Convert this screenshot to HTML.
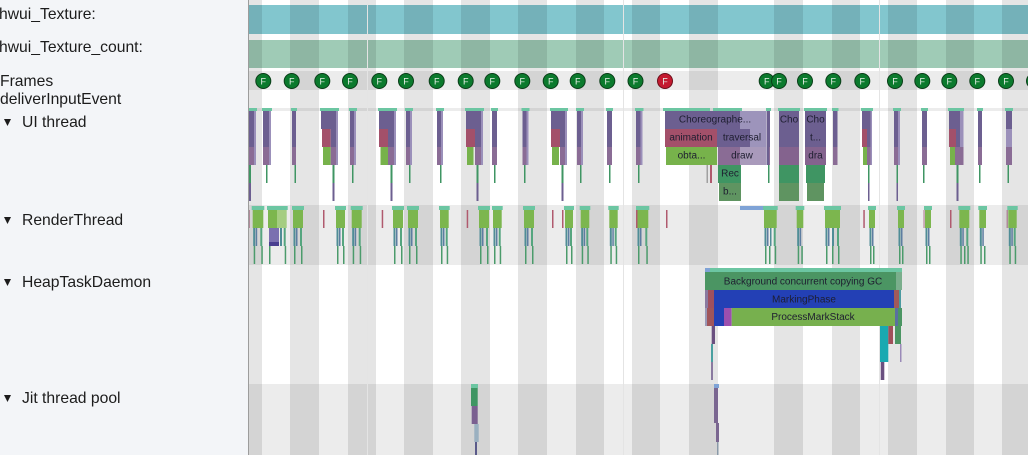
<!DOCTYPE html>
<html><head><meta charset="utf-8">
<style>
html,body{margin:0;padding:0;background:#fff;width:1028px;height:455px;overflow:hidden}
svg{display:block}
.t{fill:#6cc6a2}.p{fill:#6c5f90}.pl{fill:#9b90ba}.m{fill:#8a6c95}.r{fill:#a3506a}
.g{fill:#77b24b}.dg{fill:#3f9563}.og{fill:#5f9461}.g2{fill:#7cb64e}
.b1{fill:#4f8d96}.b2{fill:#5d7da0}.b3{fill:#55a57f}.l2{fill:#4b9b6b}.rl{fill:#b05a6e}
.bd{fill:#000;fill-opacity:.1}
.lab{font-family:"Liberation Sans",Arial,sans-serif;font-size:15.7px;fill:#1c1c1c}
.st{font-family:"Liberation Sans",Arial,sans-serif;font-size:10px;fill:#1e1e30;text-anchor:middle}
.ft{font-family:"Liberation Sans",Arial,sans-serif;font-size:9px;fill:#e8f0e8;text-anchor:middle}
</style></head>
<body>
<svg width="1028" height="455" viewBox="0 0 1028 455" xmlns="http://www.w3.org/2000/svg">
<!-- track backgrounds -->
<rect x="249" y="0" width="779" height="455" fill="#fff"/>
<rect x="249" y="71" width="779" height="19" fill="#ececec"/>
<rect x="249" y="108" width="779" height="3" fill="#ececec"/>
<rect x="249" y="205" width="779" height="60" fill="#ececec"/>
<rect x="249" y="384" width="779" height="71" fill="#ececec"/>
<!-- counters -->
<rect x="249" y="5" width="779" height="29" fill="#82c6ce"/>
<rect x="249" y="40" width="779" height="28" fill="#9fcbb6"/>
<!-- vsync bands -->
<g class="bd">
<rect x="249" y="0" width="13" height="455"/>
<rect x="290" y="0" width="29" height="455"/>
<rect x="348" y="0" width="28" height="455"/>
<rect x="404" y="0" width="29" height="455"/>
<rect x="461" y="0" width="29" height="455"/>
<rect x="518" y="0" width="29" height="455"/>
<rect x="576" y="0" width="28" height="455"/>
<rect x="632" y="0" width="28" height="455"/>
<rect x="689" y="0" width="29" height="455"/>
<rect x="774" y="0" width="29" height="455"/>
<rect x="832" y="0" width="28" height="455"/>
<rect x="888" y="0" width="29" height="455"/>
<rect x="946" y="0" width="28" height="455"/>
<rect x="1002" y="0" width="26" height="455"/>
</g>
<!-- grid lines -->
<g fill="#e4e4e4">
<rect x="367" y="0" width="1" height="455"/>
<rect x="623" y="0" width="1" height="455"/>
<rect x="879" y="0" width="1" height="455"/>
</g>

<!-- Frames -->
<g stroke="#0a3d18" stroke-width="1" fill="#0b7a2d">
<circle cx="263.3" cy="81" r="7.5"/><circle cx="291.7" cy="81" r="7.5"/><circle cx="322.3" cy="81" r="7.5"/>
<circle cx="350" cy="81" r="7.5"/><circle cx="379.3" cy="81" r="7.5"/><circle cx="406" cy="81" r="7.5"/>
<circle cx="436.7" cy="81" r="7.5"/><circle cx="465.7" cy="81" r="7.5"/><circle cx="492.3" cy="81" r="7.5"/>
<circle cx="522.3" cy="81" r="7.5"/><circle cx="550.7" cy="81" r="7.5"/><circle cx="577.7" cy="81" r="7.5"/>
<circle cx="607.3" cy="81" r="7.5"/><circle cx="635.5" cy="81" r="7.5"/>
<circle cx="665" cy="81" r="7.5" fill="#c41a30" stroke="#6a0f1a"/>
<circle cx="766.7" cy="81" r="7.5"/><circle cx="779" cy="81" r="7.5"/><circle cx="805" cy="81" r="7.5"/>
<circle cx="833.3" cy="81" r="7.5"/><circle cx="862.3" cy="81" r="7.5"/><circle cx="895" cy="81" r="7.5"/>
<circle cx="922.3" cy="81" r="7.5"/><circle cx="949.3" cy="81" r="7.5"/><circle cx="977.3" cy="81" r="7.5"/>
<circle cx="1006" cy="81" r="7.5"/><circle cx="1034" cy="81" r="7.5"/>
</g>
<g class="ft">
<text x="263.3" y="84.5">F</text><text x="291.7" y="84.5">F</text><text x="322.3" y="84.5">F</text>
<text x="350" y="84.5">F</text><text x="379.3" y="84.5">F</text><text x="406" y="84.5">F</text>
<text x="436.7" y="84.5">F</text><text x="465.7" y="84.5">F</text><text x="492.3" y="84.5">F</text>
<text x="522.3" y="84.5">F</text><text x="550.7" y="84.5">F</text><text x="577.7" y="84.5">F</text>
<text x="607.3" y="84.5">F</text><text x="635.5" y="84.5">F</text><text x="665" y="84.5">F</text>
<text x="766.7" y="84.5">F</text><text x="779" y="84.5">F</text><text x="805" y="84.5">F</text>
<text x="833.3" y="84.5">F</text><text x="862.3" y="84.5">F</text><text x="895" y="84.5">F</text>
<text x="922.3" y="84.5">F</text><text x="949.3" y="84.5">F</text><text x="977.3" y="84.5">F</text>
<text x="1006" y="84.5">F</text>
</g>

<!-- UI thread type A groups -->
<g>
<rect class="t" x="248" y="108" width="9" height="3"/><rect class="p" x="249" y="111" width="7" height="36"/><rect class="m" x="249" y="147" width="7" height="18"/><rect class="pl" x="254" y="111" width="2" height="54"/><rect class="dg" x="249" y="165" width="2" height="18"/><rect class="p" x="249" y="183" width="2" height="18"/>
<rect class="t" x="262" y="108" width="10" height="3"/><rect class="p" x="263" y="111" width="8" height="36"/><rect class="m" x="263" y="147" width="8" height="18"/><rect class="pl" x="269" y="111" width="2" height="54"/><rect class="dg" x="266" y="165" width="1.5" height="18"/>
<rect class="t" x="291" y="108" width="6" height="3"/><rect class="p" x="292" y="111" width="4" height="36"/><rect class="m" x="292" y="147" width="4" height="18"/><rect class="dg" x="294.5" y="165" width="1.5" height="18"/>
<rect class="t" x="349" y="108" width="8" height="3"/><rect class="p" x="350" y="111" width="6" height="36"/><rect class="m" x="350" y="147" width="6" height="18"/><rect class="pl" x="354" y="111" width="2" height="54"/><rect class="dg" x="352" y="165" width="1.5" height="18"/>
<rect class="t" x="405" y="108" width="8" height="3"/><rect class="p" x="406" y="111" width="6" height="36"/><rect class="m" x="406" y="147" width="6" height="18"/><rect class="pl" x="410" y="111" width="2" height="54"/><rect class="dg" x="409" y="165" width="1.5" height="18"/>
<rect class="t" x="436" y="108" width="8" height="3"/><rect class="p" x="437" y="111" width="6" height="36"/><rect class="m" x="437" y="147" width="6" height="18"/><rect class="pl" x="441" y="111" width="2" height="54"/><rect class="dg" x="440" y="165" width="1.5" height="18"/>
<rect class="t" x="491" y="108" width="7" height="3"/><rect class="p" x="492" y="111" width="5" height="36"/><rect class="m" x="492" y="147" width="5" height="18"/><rect class="dg" x="494" y="165" width="1.5" height="18"/>
<rect class="t" x="521.5" y="108" width="8" height="3"/><rect class="p" x="522.5" y="111" width="6" height="36"/><rect class="m" x="522.5" y="147" width="6" height="18"/><rect class="pl" x="526.5" y="111" width="2" height="54"/><rect class="dg" x="524" y="165" width="1.5" height="18"/>
<rect class="t" x="576" y="108" width="8" height="3"/><rect class="p" x="577" y="111" width="6" height="36"/><rect class="m" x="577" y="147" width="6" height="18"/><rect class="pl" x="581" y="111" width="2" height="54"/><rect class="dg" x="580" y="165" width="1.5" height="18"/>
<rect class="t" x="606" y="108" width="7" height="3"/><rect class="p" x="607" y="111" width="5" height="36"/><rect class="m" x="607" y="147" width="5" height="18"/><rect class="dg" x="609" y="165" width="1.5" height="18"/>
<rect class="t" x="635" y="108" width="8.5" height="3"/><rect class="p" x="636" y="111" width="6.5" height="36"/><rect class="m" x="636" y="147" width="6.5" height="18"/><rect class="pl" x="640.5" y="111" width="2" height="54"/><rect class="dg" x="638" y="165" width="1.5" height="18"/>
<rect class="t" x="766" y="108" width="5" height="3"/><rect class="p" x="767" y="111" width="3" height="36"/><rect class="m" x="767" y="147" width="3" height="18"/><rect class="dg" x="768" y="165" width="1.5" height="18"/>
<rect class="t" x="832" y="108" width="6.5" height="3"/><rect class="p" x="833" y="111" width="4.5" height="36"/><rect class="m" x="833" y="147" width="4.5" height="18"/>
<rect class="t" x="893" y="108" width="8" height="3"/><rect class="p" x="894" y="111" width="6" height="36"/><rect class="m" x="894" y="147" width="6" height="18"/><rect class="pl" x="898" y="111" width="2" height="54"/><rect class="dg" x="896.5" y="165" width="1.5" height="18"/><rect class="p" x="896.5" y="183" width="1.5" height="18"/>
<rect class="t" x="921" y="108" width="7" height="3"/><rect class="p" x="922" y="111" width="5" height="36"/><rect class="m" x="922" y="147" width="5" height="18"/><rect class="dg" x="923" y="165" width="1.5" height="18"/>
<rect class="t" x="977" y="108" width="6" height="3"/><rect class="p" x="978" y="111" width="4" height="36"/><rect class="m" x="978" y="147" width="4" height="18"/><rect class="dg" x="979" y="165" width="1.5" height="18"/>
<rect class="t" x="1005" y="108" width="8" height="3"/><rect class="p" x="1006" y="111" width="6" height="18"/><rect class="pl" x="1006" y="129" width="6" height="18"/><rect class="m" x="1006" y="147" width="6" height="18"/><rect class="dg" x="1007.5" y="165" width="1.5" height="18"/>
</g>

<!-- UI thread type B groups -->
<g>
<rect class="t" x="320" y="108" width="19" height="3"/><rect class="p" x="321" y="111" width="17" height="18"/><rect class="r" x="322" y="129" width="8.7" height="18"/><rect class="p" x="330.7" y="129" width="7.3" height="18"/><rect class="g" x="323" y="147" width="7.7" height="18"/><rect class="m" x="330.7" y="147" width="7.3" height="18"/><rect class="pl" x="336" y="111" width="2" height="54"/><rect class="dg" x="332.5" y="165" width="2" height="18"/><rect class="p" x="332.5" y="183" width="2" height="18"/>
<rect class="t" x="378" y="108" width="19" height="3"/><rect class="p" x="379" y="111" width="17" height="18"/><rect class="r" x="379" y="129" width="9" height="18"/><rect class="p" x="388" y="129" width="8" height="18"/><rect class="g" x="380.5" y="147" width="7.5" height="18"/><rect class="m" x="388" y="147" width="8" height="18"/><rect class="pl" x="394" y="111" width="2" height="54"/><rect class="dg" x="390.5" y="165" width="2" height="18"/><rect class="p" x="390.5" y="183" width="2" height="18"/>
<rect class="t" x="465" y="108" width="19" height="3"/><rect class="p" x="466" y="111" width="17" height="18"/><rect class="r" x="466" y="129" width="9" height="18"/><rect class="p" x="475" y="129" width="8" height="18"/><rect class="g" x="467" y="147" width="6.5" height="18"/><rect class="m" x="475" y="147" width="8" height="18"/><rect class="pl" x="481" y="111" width="2" height="54"/><rect class="dg" x="476.5" y="165" width="2" height="18"/><rect class="p" x="476.5" y="183" width="2" height="18"/>
<rect class="t" x="550" y="108" width="18" height="3"/><rect class="p" x="551" y="111" width="16" height="18"/><rect class="r" x="551" y="129" width="9" height="18"/><rect class="p" x="560" y="129" width="7" height="18"/><rect class="g" x="552" y="147" width="7" height="18"/><rect class="m" x="560" y="147" width="7" height="18"/><rect class="pl" x="565" y="111" width="2" height="54"/><rect class="dg" x="561.5" y="165" width="2" height="18"/><rect class="p" x="561.5" y="183" width="2" height="18"/>
<rect class="t" x="861" y="108" width="12" height="3"/><rect class="p" x="862" y="111" width="10" height="18"/><rect class="r" x="862" y="129" width="5" height="18"/><rect class="p" x="867" y="129" width="5" height="18"/><rect class="g" x="863" y="147" width="4" height="18"/><rect class="m" x="867" y="147" width="5" height="18"/><rect class="pl" x="870.5" y="111" width="1.5" height="54"/><rect class="dg" x="868" y="165" width="1.5" height="18"/><rect class="p" x="868" y="183" width="1.5" height="18"/>
<rect class="t" x="948" y="108" width="16" height="3"/><rect class="p" x="949" y="111" width="11" height="18"/><rect class="pl" x="960" y="111" width="3.5" height="18"/><rect class="r" x="949" y="129" width="7" height="18"/><rect class="p" x="956" y="129" width="4" height="18"/><rect class="pl" x="960" y="129" width="3.5" height="18"/><rect class="g" x="950" y="147" width="5" height="18"/><rect class="m" x="955" y="147" width="8.5" height="18"/><rect class="dg" x="956.5" y="165" width="2" height="18"/><rect class="p" x="956.5" y="183" width="2" height="18"/>
</g>

<!-- Choreographer group -->
<g>
<rect class="t" x="663" y="108" width="47" height="3"/><rect class="t" x="713" y="108" width="29" height="3"/>
<rect class="p" x="665" y="111" width="75" height="18"/><rect fill="#9d94bb" x="740" y="111" width="26" height="18"/>
<rect class="r" x="665" y="129" width="52" height="18"/><rect class="p" x="717" y="129" width="33" height="18"/><rect fill="#9d94bb" x="750" y="129" width="16" height="18"/>
<rect class="g" x="666" y="147" width="51" height="18"/><rect class="m" x="718" y="147" width="22" height="18"/><rect fill="#a99abb" x="740" y="147" width="26" height="18"/>
<rect fill="#a0a0a0" x="706.5" y="165" width="1.5" height="18"/><rect class="rl" x="710" y="165" width="2" height="18"/>
<rect class="dg" x="718" y="165" width="23" height="18"/>
<rect class="og" x="719" y="183" width="22" height="18"/>
<rect class="p" x="766.5" y="111" width="2.5" height="54"/>
<!-- Cho 1 -->
<rect class="t" x="778" y="108" width="22" height="3"/>
<rect class="p" x="779" y="111" width="20" height="36"/><rect fill="#84638e" x="779" y="147" width="20" height="18"/>
<rect class="dg" x="779" y="165" width="20" height="18"/><rect class="og" x="779" y="183" width="20" height="18"/>
<!-- Cho 2 -->
<rect class="t" x="804" y="108" width="23" height="3"/>
<rect class="p" x="805" y="111" width="21" height="36"/><rect fill="#84638e" x="805" y="147" width="21" height="18"/>
<rect class="dg" x="806" y="165" width="19" height="18"/><rect class="og" x="807" y="183" width="17" height="18"/>
</g>
<g class="st">
<text x="715" y="122.5">Choreographe...</text>
<text x="691" y="140.5">animation</text>
<text x="742" y="140.5">traversal</text>
<text x="691.5" y="158.5">obta...</text>
<text x="742" y="158.5">draw</text>
<text x="730" y="176.5">Rec</text>
<text x="730" y="194.5">b...</text>
<text x="789" y="122.5">Cho</text>
<text x="815.5" y="122.5">Cho</text>
<text x="815.5" y="140.5">t...</text>
<text x="815.5" y="158.5">dra</text>
</g>

<!-- RenderThread -->
<g>
<rect fill="#7fa3d6" x="740" y="206" width="23" height="4"/>
<rect fill="#b08a9a" x="248.5" y="210" width="1.5" height="18"/>
<rect class="rl" x="323" y="210" width="1.5" height="18"/><rect class="rl" x="381.7" y="210" width="1.5" height="18"/>
<rect class="rl" x="466.7" y="210" width="1.5" height="18"/><rect class="rl" x="552" y="210" width="1.5" height="18"/>
<rect class="rl" x="562" y="210" width="1.5" height="18"/><rect class="rl" x="636" y="210" width="1.5" height="18"/>
<rect class="rl" x="666" y="210" width="1.5" height="18"/><rect class="rl" x="863.3" y="210" width="1.5" height="18"/>
<rect fill="#c09aa8" x="923.3" y="210" width="1.5" height="18"/><rect class="rl" x="950" y="210" width="1.5" height="18"/>
<rect fill="#b08a9a" x="1006.5" y="210" width="1.5" height="18"/>

<rect class="t" x="251.7" y="206" width="12.6" height="4"/><rect class="g2" x="252.7" y="210" width="10.6" height="18"/><rect class="b1" x="253.2" y="228" width="2" height="18"/><rect class="b2" x="255.7" y="228" width="1.5" height="18"/><rect class="b3" x="260.3" y="228" width="2" height="18"/><rect class="l2" x="253.7" y="246" width="1.5" height="18"/><rect class="l2" x="261.3" y="246" width="1.5" height="18"/>
<rect class="t" x="267" y="206" width="20.7" height="4"/><rect class="g2" x="268" y="210" width="9" height="18"/><rect fill="#a5cd82" x="277" y="210" width="9.7" height="18"/><rect fill="#7b70b0" x="269" y="228" width="10" height="14"/><rect fill="#4a3f90" x="269" y="242" width="10" height="4"/><rect class="b1" x="280" y="228" width="2" height="18"/><rect class="b3" x="283.7" y="228" width="2" height="18"/><rect class="l2" x="269" y="246" width="1.5" height="18"/><rect class="l2" x="284.7" y="246" width="1.5" height="18"/>
<rect class="t" x="292" y="206" width="12" height="4"/><rect class="g2" x="293" y="210" width="10" height="18"/><rect class="b1" x="293.5" y="228" width="2" height="18"/><rect class="b2" x="296" y="228" width="1.5" height="18"/><rect class="b3" x="300" y="228" width="2" height="18"/><rect class="l2" x="294" y="246" width="1.5" height="18"/><rect class="l2" x="301" y="246" width="1.5" height="18"/>
<rect class="t" x="335" y="206" width="11" height="4"/><rect class="g2" x="336" y="210" width="9" height="18"/><rect class="b1" x="336.5" y="228" width="2" height="18"/><rect class="b2" x="339" y="228" width="1.5" height="18"/><rect class="b3" x="342" y="228" width="2" height="18"/><rect class="l2" x="337" y="246" width="1.5" height="18"/><rect class="l2" x="343" y="246" width="1.5" height="18"/>
<rect class="t" x="350.7" y="206" width="12" height="4"/><rect class="g2" x="351.7" y="210" width="10" height="18"/><rect class="b1" x="352.2" y="228" width="2" height="18"/><rect class="b2" x="354.7" y="228" width="1.5" height="18"/><rect class="b3" x="358.7" y="228" width="2" height="18"/><rect class="l2" x="352.7" y="246" width="1.5" height="18"/><rect class="l2" x="359.7" y="246" width="1.5" height="18"/>
<rect class="t" x="392" y="206" width="12" height="4"/><rect class="g2" x="393" y="210" width="10" height="18"/><rect class="b1" x="393.5" y="228" width="2" height="18"/><rect class="b2" x="396" y="228" width="1.5" height="18"/><rect class="b3" x="400" y="228" width="2" height="18"/><rect class="l2" x="394" y="246" width="1.5" height="18"/><rect class="l2" x="401" y="246" width="1.5" height="18"/>
<rect class="t" x="407" y="206" width="12" height="4"/><rect class="g2" x="408" y="210" width="10" height="18"/><rect class="b1" x="408.5" y="228" width="2" height="18"/><rect class="b2" x="411" y="228" width="1.5" height="18"/><rect class="b3" x="415" y="228" width="2" height="18"/><rect class="l2" x="409" y="246" width="1.5" height="18"/><rect class="l2" x="416" y="246" width="1.5" height="18"/>
<rect class="t" x="439" y="206" width="10.7" height="4"/><rect class="g2" x="440" y="210" width="8.7" height="18"/><rect class="b1" x="440.5" y="228" width="2" height="18"/><rect class="b2" x="443" y="228" width="1.5" height="18"/><rect class="b3" x="445.7" y="228" width="2" height="18"/><rect class="l2" x="441" y="246" width="1.5" height="18"/><rect class="l2" x="446.7" y="246" width="1.5" height="18"/>
<rect class="t" x="478" y="206" width="12" height="4"/><rect class="g2" x="479" y="210" width="10" height="18"/><rect class="b1" x="479.5" y="228" width="2" height="18"/><rect class="b2" x="482" y="228" width="1.5" height="18"/><rect class="b3" x="486" y="228" width="2" height="18"/><rect class="l2" x="480" y="246" width="1.5" height="18"/><rect class="l2" x="487" y="246" width="1.5" height="18"/>
<rect class="t" x="492" y="206" width="10.7" height="4"/><rect class="g2" x="493" y="210" width="8.7" height="18"/><rect class="b1" x="493.5" y="228" width="2" height="18"/><rect class="b2" x="496" y="228" width="1.5" height="18"/><rect class="b3" x="498.7" y="228" width="2" height="18"/><rect class="l2" x="494" y="246" width="1.5" height="18"/><rect class="l2" x="499.7" y="246" width="1.5" height="18"/>
<rect class="t" x="523" y="206" width="12" height="4"/><rect class="g2" x="524" y="210" width="10" height="18"/><rect class="b1" x="524.5" y="228" width="2" height="18"/><rect class="b2" x="527" y="228" width="1.5" height="18"/><rect class="b3" x="531" y="228" width="2" height="18"/><rect class="l2" x="525" y="246" width="1.5" height="18"/><rect class="l2" x="532" y="246" width="1.5" height="18"/>
<rect class="t" x="564" y="206" width="10" height="4"/><rect class="g2" x="565" y="210" width="8" height="18"/><rect class="b1" x="565.5" y="228" width="2" height="18"/><rect class="b2" x="568" y="228" width="1.5" height="18"/><rect class="b3" x="570" y="228" width="2" height="18"/><rect class="l2" x="566" y="246" width="1.5" height="18"/><rect class="l2" x="571" y="246" width="1.5" height="18"/>
<rect class="t" x="579.7" y="206" width="10.6" height="4"/><rect class="g2" x="580.7" y="210" width="8.6" height="18"/><rect class="b1" x="581.2" y="228" width="2" height="18"/><rect class="b2" x="583.7" y="228" width="1.5" height="18"/><rect class="b3" x="586.3" y="228" width="2" height="18"/><rect class="l2" x="581.7" y="246" width="1.5" height="18"/><rect class="l2" x="587.3" y="246" width="1.5" height="18"/>
<rect class="t" x="608.3" y="206" width="10.4" height="4"/><rect class="g2" x="609.3" y="210" width="8.4" height="18"/><rect class="b1" x="609.8" y="228" width="2" height="18"/><rect class="b2" x="612.3" y="228" width="1.5" height="18"/><rect class="b3" x="614.7" y="228" width="2" height="18"/><rect class="l2" x="610.3" y="246" width="1.5" height="18"/><rect class="l2" x="615.7" y="246" width="1.5" height="18"/>
<rect class="t" x="636" y="206" width="13.3" height="4"/><rect class="g2" x="637.5" y="210" width="10.8" height="18"/><rect class="b1" x="637.5" y="228" width="2" height="18"/><rect class="b2" x="640" y="228" width="1.5" height="18"/><rect class="b3" x="645.3" y="228" width="2" height="18"/><rect class="l2" x="638" y="246" width="1.5" height="18"/><rect class="l2" x="646.3" y="246" width="1.5" height="18"/>
<rect class="t" x="763" y="206" width="14.7" height="4"/><rect class="g2" x="764" y="210" width="12.7" height="18"/><rect class="b1" x="764.5" y="228" width="2" height="18"/><rect class="b2" x="767" y="228" width="1.5" height="18"/><rect class="b1" x="770" y="228" width="1.5" height="18"/><rect class="b3" x="773.7" y="228" width="2" height="18"/><rect class="l2" x="765" y="246" width="1.5" height="18"/><rect class="l2" x="769" y="246" width="1.5" height="18"/><rect class="l2" x="774.7" y="246" width="1.5" height="18"/>
<rect class="t" x="795.7" y="206" width="8.6" height="4"/><rect class="g2" x="796.7" y="210" width="6.6" height="18"/><rect class="b1" x="797.2" y="228" width="2" height="18"/><rect class="b2" x="799.7" y="228" width="1.5" height="18"/><rect class="l2" x="797.7" y="246" width="1.5" height="18"/><rect class="l2" x="801.3" y="246" width="1.5" height="18"/>
<rect class="t" x="824" y="206" width="17" height="4"/><rect class="g2" x="825" y="210" width="15" height="18"/><rect class="b1" x="825.5" y="228" width="2" height="18"/><rect class="b2" x="828" y="228" width="1.5" height="18"/><rect class="b1" x="832" y="228" width="2" height="18"/><rect class="b3" x="837" y="228" width="2" height="18"/><rect class="l2" x="826" y="246" width="1.5" height="18"/><rect class="l2" x="832" y="246" width="1.5" height="18"/><rect class="l2" x="838" y="246" width="1.5" height="18"/>
<rect class="t" x="868" y="206" width="8" height="4"/><rect class="g2" x="869" y="210" width="6" height="18"/><rect class="b1" x="869.5" y="228" width="2" height="18"/><rect class="b2" x="872" y="228" width="1.5" height="18"/><rect class="l2" x="870" y="246" width="1.5" height="18"/><rect class="l2" x="873" y="246" width="1.5" height="18"/>
<rect class="t" x="897" y="206" width="8" height="4"/><rect class="g2" x="898" y="210" width="6" height="18"/><rect class="b1" x="898.5" y="228" width="2" height="18"/><rect class="b2" x="901" y="228" width="1.5" height="18"/><rect class="l2" x="899" y="246" width="1.5" height="18"/><rect class="l2" x="902" y="246" width="1.5" height="18"/>
<rect class="t" x="924" y="206" width="8" height="4"/><rect class="g2" x="925" y="210" width="6" height="18"/><rect class="b1" x="925.5" y="228" width="2" height="18"/><rect class="b2" x="928" y="228" width="1.5" height="18"/><rect class="l2" x="926" y="246" width="1.5" height="18"/><rect class="l2" x="929" y="246" width="1.5" height="18"/>
<rect class="t" x="958.3" y="206" width="12" height="4"/><rect class="g2" x="959.3" y="210" width="10" height="18"/><rect class="b1" x="959.8" y="228" width="2" height="18"/><rect class="b2" x="962.3" y="228" width="1.5" height="18"/><rect class="b3" x="966.3" y="228" width="2" height="18"/><rect class="l2" x="960.3" y="246" width="1.5" height="18"/><rect class="l2" x="964" y="246" width="1.5" height="18"/><rect class="l2" x="967.3" y="246" width="1.5" height="18"/>
<rect class="t" x="978.3" y="206" width="8.7" height="4"/><rect class="g2" x="979.3" y="210" width="6.7" height="18"/><rect class="b1" x="979.8" y="228" width="2" height="18"/><rect class="b2" x="982.3" y="228" width="1.5" height="18"/><rect class="l2" x="980.3" y="246" width="1.5" height="18"/><rect class="l2" x="984" y="246" width="1.5" height="18"/>
<rect class="t" x="1007.3" y="206" width="10.4" height="4"/><rect class="g2" x="1008.3" y="210" width="8.4" height="18"/><rect class="b1" x="1008.8" y="228" width="2" height="18"/><rect class="b2" x="1011.3" y="228" width="1.5" height="18"/><rect class="b3" x="1013.7" y="228" width="2" height="18"/><rect class="l2" x="1009.3" y="246" width="1.5" height="18"/><rect class="l2" x="1014.7" y="246" width="1.5" height="18"/>
</g>

<!-- HeapTaskDaemon -->
<g>
<rect fill="#7fa3d6" x="705" y="268" width="5" height="4"/><rect class="t" x="710" y="268" width="192" height="4"/>
<rect fill="#4b9563" x="705" y="272" width="191" height="18"/><rect fill="#7aae8c" x="896" y="272" width="6" height="18"/>
<rect fill="#8a7aa0" x="705" y="290" width="3" height="18"/><rect fill="#a0505e" x="708" y="290" width="6" height="18"/>
<rect fill="#2340b5" x="714" y="290" width="180" height="18"/><rect fill="#a05a5a" x="894" y="290" width="5" height="18"/><rect fill="#4a9aa0" x="899" y="290" width="2" height="18"/>
<rect fill="#9a9ab8" x="705" y="308" width="2" height="18"/><rect fill="#a0555a" x="707" y="308" width="7" height="18"/>
<rect fill="#2340b5" x="714" y="308" width="10" height="18"/><rect fill="#9c4fae" x="724" y="308" width="7.7" height="18"/>
<rect fill="#77b04e" x="731.7" y="308" width="163.3" height="18"/><rect fill="#5a6fa0" x="895" y="308" width="3" height="18"/><rect fill="#4b9563" x="898" y="308" width="4" height="18"/>
<rect fill="#6a5080" x="711.7" y="326" width="3.3" height="18"/>
<rect fill="#19a9b1" x="880" y="326" width="8.3" height="36"/><rect fill="#a0505a" x="888.3" y="326" width="4.7" height="18"/><rect fill="#4b9563" x="895" y="326" width="6" height="18"/>
<rect fill="#4aa0a0" x="711" y="344" width="2" height="18"/><rect fill="#9a8ab8" x="900" y="344" width="1.5" height="18"/>
<rect fill="#8a7aa0" x="711" y="362" width="2" height="18"/><rect fill="#6a5080" x="880.7" y="362" width="3.6" height="18"/>
</g>
<g class="st">
<text x="803" y="284.5">Background concurrent copying GC</text>
<text x="804" y="302.5">MarkingPhase</text>
<text x="813" y="320">ProcessMarkStack</text>
</g>

<!-- Jit thread pool -->
<g>
<rect class="t" x="471" y="384" width="7" height="4"/>
<rect fill="#3f9563" x="471" y="388" width="6.7" height="18"/>
<rect fill="#7a5f90" x="471.7" y="406" width="6" height="18"/>
<rect fill="#9ab0c0" x="474.3" y="424" width="4.4" height="18"/>
<rect fill="#5a5a8a" x="475" y="442" width="2" height="13"/>
<rect fill="#7fa3d6" x="714" y="384" width="5" height="4"/>
<rect fill="#7a6690" x="714" y="388" width="4" height="35"/>
<rect fill="#7a6690" x="716" y="423" width="3" height="19"/>
<rect fill="#8a9aa8" x="717" y="442" width="1.5" height="13"/>
</g>

<!-- Left panel -->
<rect x="0" y="0" width="248" height="455" fill="#f3f5f8"/>
<rect x="248" y="0" width="1" height="455" fill="#9c9c9c"/>
<g class="lab">
<text x="-1" y="19">hwui_Texture:</text>
<text x="-1" y="52">hwui_Texture_count:</text>
<text x="0" y="86">Frames</text>
<text x="0" y="104">deliverInputEvent</text>
<text x="22" y="127">UI thread</text>
<text x="22" y="225">RenderThread</text>
<text x="22" y="287">HeapTaskDaemon</text>
<text x="22" y="403">Jit thread pool</text>
</g>
<g fill="#1c1c1c">
<polygon points="4,119 11,119 7.5,126"/>
<polygon points="4,217 11,217 7.5,224"/>
<polygon points="4,279 11,279 7.5,286"/>
<polygon points="4,395 11,395 7.5,402"/>
</g>
</svg>
</body></html>
